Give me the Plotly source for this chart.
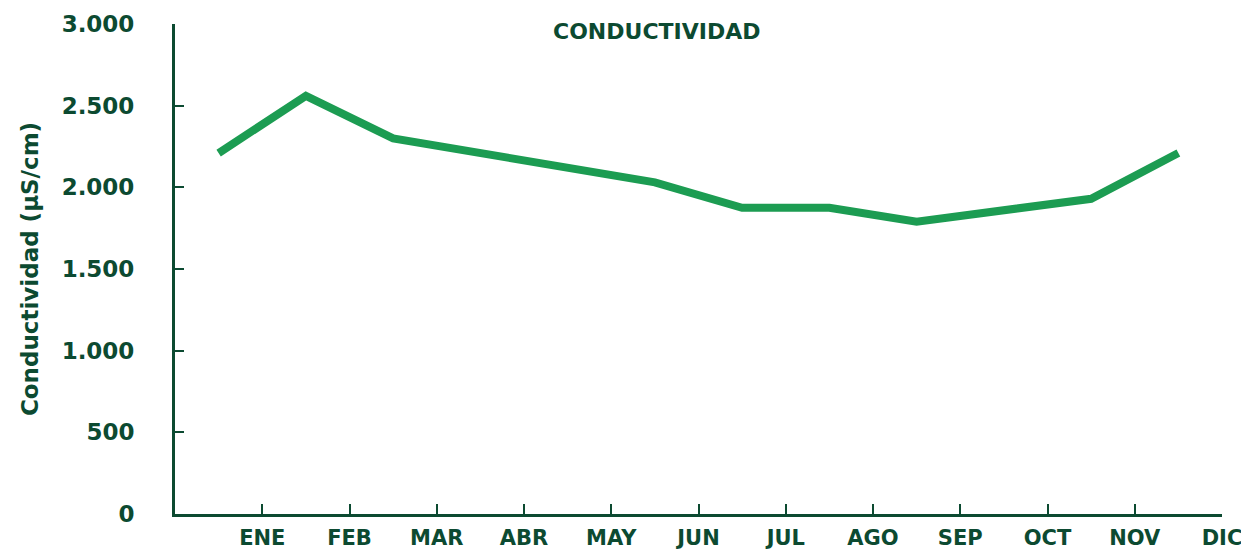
import plotly.graph_objects as go

months = ["ENE", "FEB", "MAR", "ABR", "MAY", "JUN", "JUL", "AGO", "SEP", "OCT", "NOV", "DIC"]
conductividad = [2210, 2560, 2300, 2210, 2130, 2030, 1875, 1875, 1790, 1855, 1930, 2210]
y_ticks = [0, 500, 1000, 1500, 2000, 2500, 3000]

DARK = "#0c4a31"
LINE = "#1c9c52"
FONT = "'DejaVu Sans', sans-serif"

x_mid = [i + 0.5 for i in range(len(months))]
x_ticks = [i + 1 for i in range(len(months))]

fig = go.Figure()
fig.add_trace(go.Scatter(
    x=x_mid, y=conductividad, mode="lines",
    line=dict(color=LINE, width=8), hoverinfo="skip", showlegend=False,
))

fig.update_layout(
    width=1241, height=543,
    margin=dict(l=167, r=27, t=16, b=37, autoexpand=False),
    paper_bgcolor="white", plot_bgcolor="white",
    separators=",.",
    font=dict(family=FONT, color=DARK, size=20, weight="bold"),
    annotations=[dict(
        text="CONDUCTIVIDAD", xref="paper", yref="paper", x=0.46, y=0.984,
        xanchor="center", yanchor="middle", showarrow=False,
        font=dict(family=FONT, size=22, color=DARK, weight="bold"),
    )],
)

fig.update_xaxes(
    range=[0, 12], tickvals=x_ticks, ticktext=months,
    showgrid=False, zeroline=False,
    showline=True, linecolor=DARK, linewidth=3,
    ticks="inside", ticklen=10, tickwidth=2, tickcolor=DARK,
    ticklabelstandoff=3,
    tickfont=dict(family=FONT, size=21, color=DARK, weight="bold"),
)
fig.update_yaxes(
    range=[0, 3000], tickvals=y_ticks, tickformat=",d",
    showgrid=False, zeroline=False,
    showline=True, linecolor=DARK, linewidth=3,
    ticks="inside", ticklen=9, tickwidth=2, tickcolor=DARK,
    ticklabelstandoff=33,
    tickfont=dict(family=FONT, size=23, color=DARK, weight="bold"),
    title=dict(text="Conductividad (µS/cm)", standoff=17,
               font=dict(family=FONT, size=23, color=DARK, weight="bold")),
)

fig.write_html("out.html")
